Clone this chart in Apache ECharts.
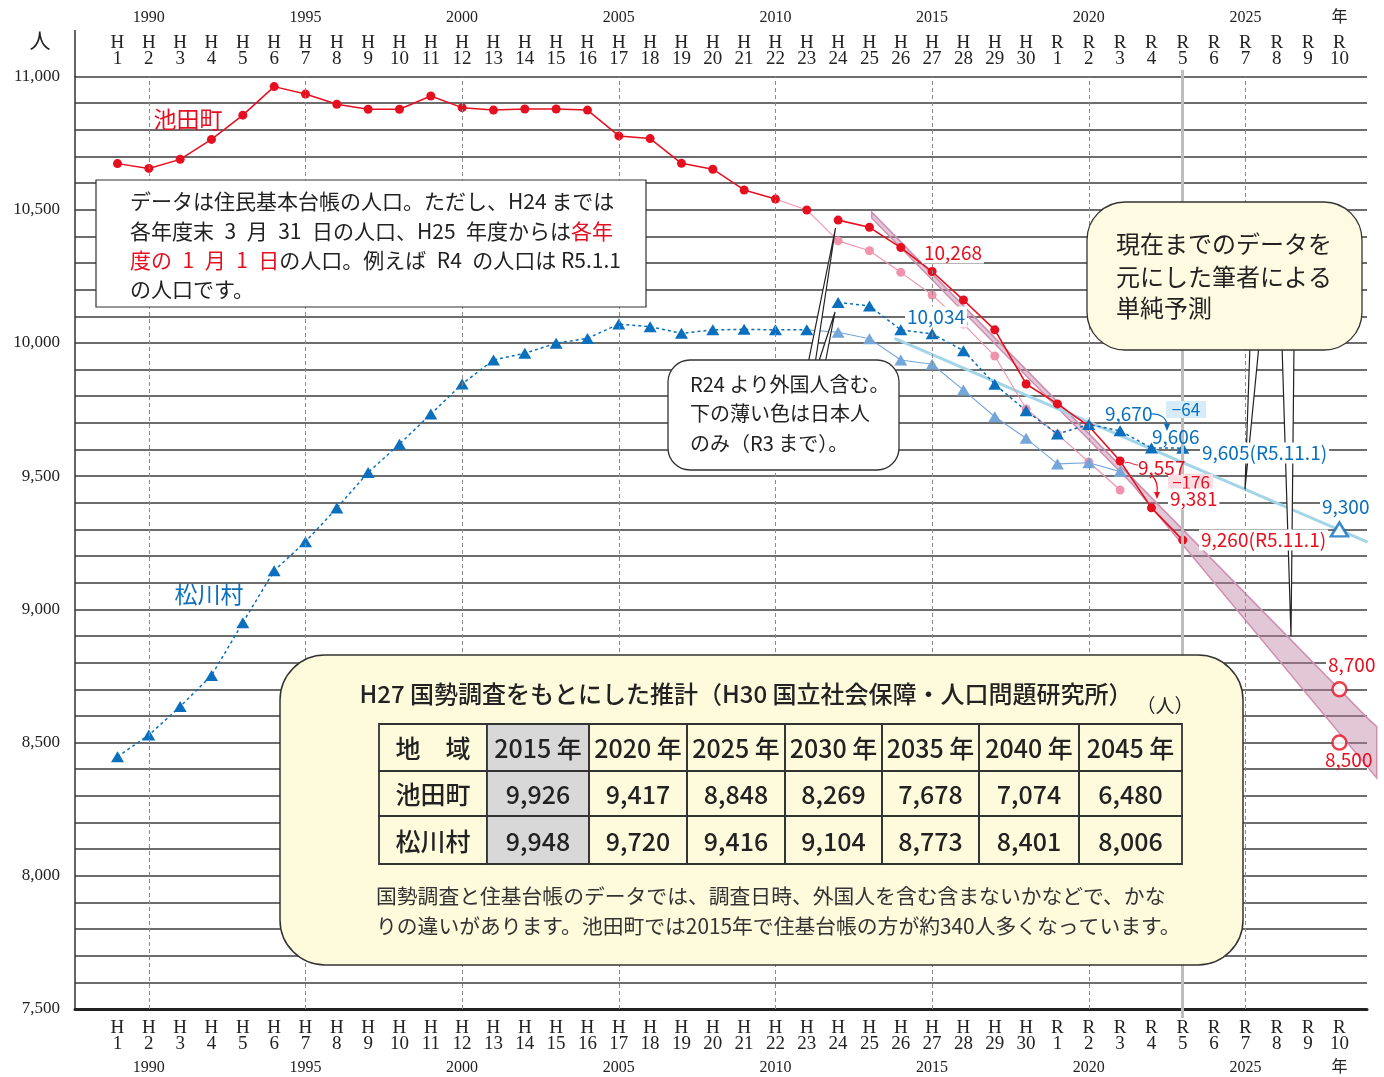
<!DOCTYPE html>
<html><head><meta charset="utf-8">
<script src="https://cdn.jsdelivr.net/npm/echarts@6/dist/echarts.min.js"></script>
<style>html,body{margin:0;padding:0;background:#fff}#c{width:1384px;height:1077px}</style>
</head><body><div id="c"></div>
<script>
// ---------- data ----------
const periods = ['H1','H2','H3','H4','H5','H6','H7','H8','H9','H10','H11','H12','H13','H14','H15','H16','H17','H18','H19','H20','H21','H22','H23','H24','H25','H26','H27','H28','H29','H30','R1','R2','R3','R4','R5','R6','R7','R8','R9','R10'];
const yearMarks = ['1990','1995','2000','2005','2010','2015','2020','2025'];
const yearAt = ['H2','H7','H12','H17','H22','H27','R2','R7'];
const currentPeriod = 'R5';
const yTickLabels = ['7,500','8,000','8,500','9,000','9,500','10,000','10,500','11,000'];

// 池田町 H1..R5
const ikeda = [10673,10655,10689,10764,10855,10962,10934,10896,10877,10877,10927,10883,10874,10878,10878,10874,10777,10767,10674,10652,10574,10540,10499,10461,10434,10358,10268,10161,10049,9846,9771,9688,9557,9381,9260];
// 池田町 日本人のみ H24..R3
const ikedaJP = [10383,10346,10265,10180,10071,9951,9752,9657,9553,9448];
// 松川村 H1..R5
const matsukawa = [8447,8528,8635,8752,8950,9145,9254,9380,9514,9620,9733,9846,9936,9961,9999,10017,10071,10061,10036,10049,10051,10049,10049,10152,10139,10049,10034,9971,9845,9745,9658,9694,9670,9606,9605];
// 松川村 日本人のみ H24..R3
const matsukawaJP = [10040,10016,9936,9920,9823,9723,9642,9546,9550,9517];

// 筆者による単純予測 (x = period index, H1 = 1)
const ikedaTargets = [8700, 8500];
const matsukawaTarget = 9300;
const matsukawaTrend = [[25.8,10017],[40.9,9252]];
const ikedaBand = [[25.07,10491],[40.92,8589],[41.19,8560],[41.19,8367],[33.4,9469],[25.07,10469]];

// 推計表
const tableHead = ['地　域','2015 年','2020 年','2025 年','2030 年','2035 年','2040 年','2045 年'];
const ikedaEst = ['9,926','9,417','8,848','8,269','7,678','7,074','6,480'];
const matsukawaEst = ['9,948','9,720','9,416','9,104','8,773','8,401','8,006'];

// ---------- styles ----------
const RED='#e60f1f', BLUE='#0a6fbd', PINK='#f293ad', LBLUE='#74a6da', CYAN='#a3d5e8';
const JP='"Noto Sans CJK JP","Noto Sans",sans-serif';
const SERIF='"Liberation Serif","DejaVu Serif","Noto Sans CJK JP",serif';

const idx = p => periods.indexOf(p) + 1;
const P = (arr, start) => arr.map((v,k) => [start + k, v]);

const chart = echarts.init(document.getElementById('c'), null, {renderer:'canvas'});

function topLabel(val){
  const e = val[0], n = val.slice(1);
  const k = yearAt.indexOf(val);
  if (k >= 0) return '{yr|' + yearMarks[k] + '}\n{e|' + e + '}\n{n|' + n + '}';
  if (val === 'R10') return '{yr|年}\n{e|' + e + '}\n{n|' + n + '}';
  return '{e|' + e + '}\n{n|' + n + '}';
}
function bottomLabel(val){
  const e = val[0], n = val.slice(1);
  const k = yearAt.indexOf(val);
  if (k >= 0) return '{e|' + e + '}\n{n|' + n + '}\n{yb|' + yearMarks[k] + '}';
  if (val === 'R10') return '{e|' + e + '}\n{n|' + n + '}\n{yb|年}';
  return '{e|' + e + '}\n{n|' + n + '}';
}
const richTop = {
  yr:{fontFamily:SERIF,fontSize:16,color:'#222',lineHeight:26,verticalAlign:'top'},
  e:{fontFamily:SERIF,fontSize:19,color:'#222',lineHeight:16},
  n:{fontFamily:SERIF,fontSize:19,color:'#222',lineHeight:16}
};
const richBot = {
  yb:{fontFamily:SERIF,fontSize:16,color:'#222',lineHeight:24,verticalAlign:'bottom'},
  e:{fontFamily:SERIF,fontSize:19,color:'#222',lineHeight:16},
  n:{fontFamily:SERIF,fontSize:19,color:'#222',lineHeight:16}
};

// ---------- graphics ----------
function T(x,y,text,size,color,align,extra){
  align = align || 'left';
  return {type:'text', z:120, silent:true, style:Object.assign({
    x:x, y:y, text:text, font:size+'px '+JP, fill:color,
    align:align, textAlign:align, verticalAlign:'middle', textVerticalAlign:'middle'
  }, extra||{})};
}
function wedge(points, fill){
  return {type:'polygon', z:105, silent:true, shape:{points:points}, style:{fill:fill||'#fff', stroke:'#222', lineWidth:1.2}};
}
const SP = '\u2002';
const g = [];
g.push({type:'line', z:50, silent:true, shape:{x1:75,y1:30,x2:75,y2:77}, style:{stroke:'#333',lineWidth:1.5}});
g.push({type:'line', z:50, silent:true, shape:{x1:1182.5,y1:70,x2:1182.5,y2:1018}, style:{stroke:'#bdbdbd',lineWidth:3}});
g.push(T(40,42,'人',21,'#222','center',{font:'21px '+SERIF}));
g.push(T(188,119,'池田町',23,RED,'center'));
g.push(T(209,594,'松川村',23,BLUE,'center'));

// text box 1
g.push({type:'rect', z:110, silent:true, shape:{x:96,y:180,width:550,height:127}, style:{fill:'#fff',stroke:'#333',lineWidth:1.2}});
const rich1 = {r:{fill:RED, font:'21px '+JP}};
g.push(T(130,201,'データは住民基本台帳の人口。ただし、H24 までは',21,'#222','left',{rich:rich1}));
g.push(T(130,231,'各年度末'+SP+'3'+SP+'月'+SP+'31'+SP+'日の人口、H25'+SP+'年度からは{r|各年}',21,'#222','left',{rich:rich1}));
g.push(T(130,260,'{r|度の'+SP+'1'+SP+'月'+SP+'1'+SP+'日}の人口。例えば'+SP+'R4'+SP+'の人口は R5.1.1',21,'#222','left',{rich:rich1}));
g.push(T(130,289,'の人口です。',21,'#222','left',{rich:rich1}));

// callout 2
g.push(wedge([[808,364],[815,364],[835.5,228]]));
g.push(wedge([[818,364],[825,364],[835,312]]));
g.push({type:'rect', z:110, silent:true, shape:{x:668,y:360,width:231,height:110,r:22}, style:{fill:'#fff',stroke:'#333',lineWidth:1.3}});
g.push(T(690,384,'R24 より外国人含む。',20,'#222'));
g.push(T(690,413,'下の薄い色は日本人',20,'#222'));
g.push(T(690,443,'のみ（R3 まで）。',20,'#222'));

// callout 3
g.push(wedge([[1250,345],[1259,345],[1245,489]], '#fff'));
g.push(wedge([[1282,345],[1294,345],[1291,636]], '#fff'));
g.push({type:'rect', z:110, silent:true, shape:{x:1087,y:202,width:275,height:148,r:38}, style:{fill:'#fffbe3',stroke:'#333',lineWidth:1.3}});
g.push(T(1116,244,'現在までのデータを',24,'#222'));
g.push(T(1116,277,'元にした筆者による',24,'#222'));
g.push(T(1116,308,'単純予測',24,'#222'));

// table box
g.push({type:'rect', z:110, silent:true, shape:{x:280,y:655,width:963,height:310,r:45}, style:{fill:'#fefadc',stroke:'#333',lineWidth:1.5}});
g.push(T(746,694,'H27 国勢調査をもとにした推計（H30 国立社会保障・人口問題研究所）',24,'#222','center',{font:'500 24px '+JP}));
g.push(T(1165,706,'（人）',19,'#222','center'));
const colX = [379,487,589,687,785,882,979,1079,1182];
const rowY = [724,771,816,864];
const rows = [tableHead, ['池田町'].concat(ikedaEst), ['松川村'].concat(matsukawaEst)];
for (let r=0;r<3;r++){
  for (let c=0;c<8;c++){
    g.push({type:'rect', z:111, silent:true, shape:{x:colX[c],y:rowY[r],width:colX[c+1]-colX[c],height:rowY[r+1]-rowY[r]},
      style:{fill: c===1 ? '#d8d8d8' : 'rgba(0,0,0,0)', stroke:'#333', lineWidth:1.8}});
    g.push(T((colX[c]+colX[c+1])/2, (rowY[r]+rowY[r+1])/2 + 1, rows[r][c], 25, '#222','center',{font:'500 25px '+JP}));
  }
}
g.push(T(376,896,'国勢調査と住基台帳のデータでは、調査日時、外国人を含む含まないかなどで、かな',20.8,'#333'));
g.push(T(376,926,'りの違いがあります。池田町では2015年で住基台帳の方が約340人多くなっています。',20.8,'#333'));

// value labels
const WB = {backgroundColor:'#fff', padding:[1,2]};
g.push(T(922,253,'10,268',19,RED,'left',WB));
g.push(T(905,317,'10,034',19,BLUE,'left',WB));
g.push(T(1105,414,'9,670',19,BLUE,'left'));
g.push({type:'rect', z:115, silent:true, shape:{x:1166,y:401,width:40,height:17}, style:{fill:'#d6edf9'}});
g.push(T(1186,409.5,'−64',17,BLUE,'center'));
g.push(T(1152,437,'9,606',19,BLUE,'left'));
g.push(T(1200,453,'9,605(R5.11.1)',19,BLUE,'left',WB));
g.push(T(1138,468,'9,557',19,RED,'left'));
g.push({type:'rect', z:115, silent:true, shape:{x:1168,y:474,width:45,height:17}, style:{fill:'#fbdde4'}});
g.push(T(1191,482.5,'−176',17,RED,'center'));
g.push(T(1168,499,'9,381',19,RED,'left',WB));
g.push(T(1199,540,'9,260(R5.11.1)',19,RED,'left',WB));
g.push(T(1320,507,'9,300',19,BLUE,'left',WB));
g.push(T(1326,665,'8,700',19,RED,'left',WB));
g.push(T(1325,760,'8,500',19,RED,'left'));

// arrows
g.push({type:'bezierCurve', z:116, silent:true, shape:{x1:1151,y1:414,cpx1:1160,cpy1:413,cpx2:1167,cpy2:418,x2:1167,y2:426}, style:{stroke:BLUE,lineWidth:1.2,fill:null}});
g.push({type:'polygon', z:116, silent:true, shape:{points:[[1164,424],[1170,424],[1167,431]]}, style:{fill:BLUE}});
g.push({type:'bezierCurve', z:116, silent:true, shape:{x1:1152,y1:476,cpx1:1157,cpy1:480,cpx2:1158,cpy2:486,x2:1157,y2:494}, style:{stroke:RED,lineWidth:1.2,fill:null}});
g.push({type:'polygon', z:116, silent:true, shape:{points:[[1154,492],[1160,492],[1157,499]]}, style:{fill:RED}});
g.push({type:'bezierCurve', z:116, silent:true, shape:{x1:1125,y1:463,cpx1:1129,cpy1:461,cpx2:1133,cpy2:465,x2:1138,y2:465}, style:{stroke:RED,lineWidth:1,fill:null}});

// ---------- option ----------
const vlines = yearAt.map(p => ({xAxis: idx(p), lineStyle:{color:'#8a8a8a', type:[4,3], width:1}}));

const option = {
  animation:false,
  backgroundColor:'#fff',
  grid:[
    {left:75, right:17, top:76.5, bottom:68},
    {left:101.8, right:28.9, top:76.5, bottom:68}
  ],
  xAxis:[
    {type:'value', gridIndex:0, min:-0.3565, max:40.88, position:'bottom',
     axisLine:{show:true, onZero:false, lineStyle:{color:'#222', width:3}},
     axisTick:{show:false}, axisLabel:{show:false}, splitLine:{show:false}},
    {type:'category', gridIndex:1, position:'top', data:periods, boundaryGap:true,
     axisLine:{show:false}, axisTick:{show:false}, splitLine:{show:false},
     axisLabel:{interval:0, margin:9, formatter:topLabel, rich:richTop, fontFamily:SERIF, color:'#222'}},
    {type:'category', gridIndex:1, position:'bottom', data:periods, boundaryGap:true,
     axisLine:{show:false}, axisTick:{show:false}, splitLine:{show:false},
     axisLabel:{interval:0, margin:11, formatter:bottomLabel, rich:richBot, fontFamily:SERIF, color:'#222'}}
  ],
  yAxis:[
    {type:'value', gridIndex:0, min:7500, max:11000, interval:100, position:'left',
     axisLine:{show:true, onZero:false, lineStyle:{color:'#333', width:1.5}}, axisTick:{show:false},
     axisLabel:{margin:15, fontFamily:SERIF, fontSize:17, color:'#222',
       formatter: v => { const s = v.toLocaleString('en-US'); return yTickLabels.indexOf(s) >= 0 ? s : ''; }},
     splitLine:{show:true, lineStyle:{color:'#3c3c3c', width:1.6}}},
    {type:'value', gridIndex:1, min:0, max:1, show:false}
  ],
  series:[
    {type:'line', xAxisIndex:0, yAxisIndex:0, data:[], z:1,
     markLine:{silent:true, symbol:'none', label:{show:false}, data:vlines}},
    {type:'custom', xAxisIndex:0, yAxisIndex:0, z:2, silent:true, clip:false, data:[[0,0]],
     renderItem:(params, api) => ({type:'polygon', shape:{points: ikedaBand.map(p => api.coord(p))},
       style:{fill:'rgba(185,125,158,0.42)', stroke:'#d08fb2', lineWidth:1.5}})},
    {type:'line', xAxisIndex:0, yAxisIndex:0, z:2, silent:true, data:matsukawaTrend, symbol:'none',
     lineStyle:{color:CYAN, width:3}},
    // Japanese-only lines
    {type:'line', z:3, silent:true, data:[{value:[22, ikeda[21]], symbol:'none'}, {value:[23, ikeda[22]], itemStyle:{color:RED}}].concat(P(ikedaJP,24)),
     symbol:'circle', symbolSize:9, itemStyle:{color:PINK}, lineStyle:{color:PINK, width:1.1}},
    {type:'line', z:3, silent:true, data:[{value:[23, matsukawa[22]], symbol:'none'}].concat(P(matsukawaJP,24)),
     symbol:'triangle', symbolSize:[13,11], itemStyle:{color:LBLUE}, lineStyle:{color:LBLUE, width:1.1}},
    // totals
    {type:'line', z:4, silent:true, data:P(ikeda.slice(0,22),1), symbol:'circle', symbolSize:9,
     itemStyle:{color:RED}, lineStyle:{color:RED, width:1.5}},
    {type:'line', z:4, silent:true, data:P(ikeda.slice(23),24), symbol:'circle', symbolSize:9,
     itemStyle:{color:RED}, lineStyle:{color:RED, width:1.6}},
    {type:'line', z:4, silent:true, data:P(matsukawa.slice(0,23),1), symbol:'triangle', symbolSize:[13,11],
     itemStyle:{color:BLUE}, lineStyle:{color:BLUE, width:1.5, type:[3,3]}},
    {type:'line', z:4, silent:true, data:P(matsukawa.slice(23),24), symbol:'triangle', symbolSize:[13,11],
     itemStyle:{color:BLUE}, lineStyle:{color:BLUE, width:1.5, type:[3,3]}},
    // projection targets
    {type:'scatter', z:6, silent:true, data:ikedaTargets.map(v => [idx('R10'), v]), symbol:'circle', symbolSize:14,
     itemStyle:{color:'#fff', borderColor:RED, borderWidth:2.5}},
    {type:'scatter', z:6, silent:true, data:[[idx('R10'), matsukawaTarget]], symbol:'triangle', symbolSize:[17,14],
     itemStyle:{color:'#fff', borderColor:BLUE, borderWidth:2.5}}
  ],
  graphic:g
};
chart.setOption(option);
</script>
</body></html>
